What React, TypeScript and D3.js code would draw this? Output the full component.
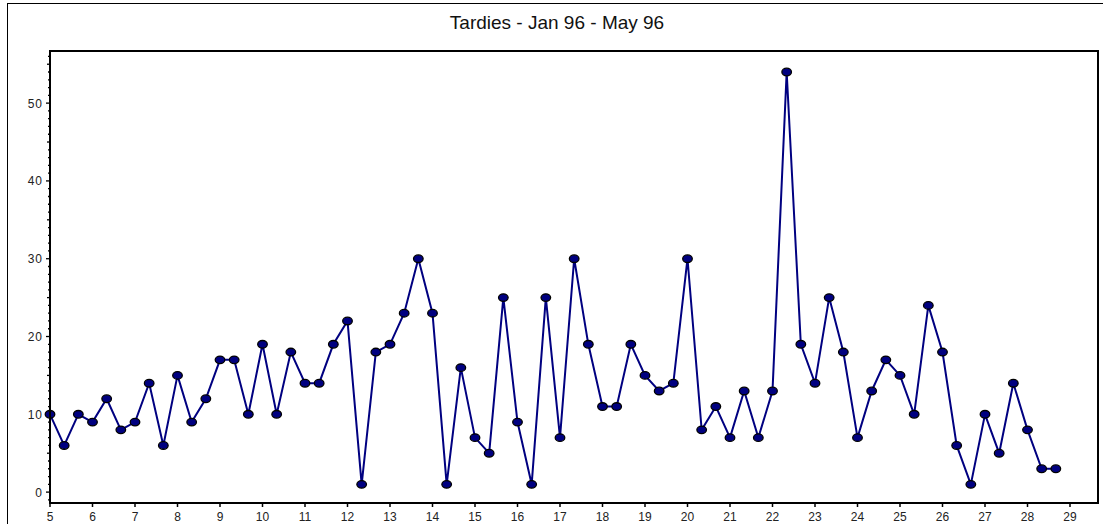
import React from "react";
import * as d3 from "d3";

// Daily tardy counts, three readings per week number
const tardies: number[] = [
  10, 6, 10, 9, 12, 8, 9, 14, 6, 15, 9, 12, 17, 17, 10, 19, 10, 18,
  14, 14, 19, 22, 1, 18, 19, 23, 30, 23, 1, 16, 7, 5, 25, 9, 1, 25,
  7, 30, 19, 11, 11, 19, 15, 13, 14, 30, 8, 11, 7, 13, 7, 13, 54, 19,
  14, 25, 18, 7, 13, 17, 15, 10, 24, 18, 6, 1, 10, 5, 14, 8, 3, 3,
];
const startWeek = 5;
const stepsPerWeek = 3;
const xTicks: number[] = d3.range(5, 30);
const yTicks: number[] = [0, 10, 20, 30, 40, 50];
const title = "Tardies - Jan 96 - May 96";

const W = 1103;
const H = 524;
const left = 50;
const right = 1098;
const top = 51;
const bottom = 503;

export default function App() {
  const x = d3.scaleLinear().domain([5, 5 + (right - left) / 42.5]).range([left, right]);
  const y = d3.scaleLinear().domain([-1.4, 56.7]).range([bottom, top]);

  const pts = tardies.map((v, i) => ({ wk: startWeek + i / stepsPerWeek, v }));
  const line = d3
    .line<{ wk: number; v: number }>()
    .x((d) => x(d.wk))
    .y((d) => y(d.v));

  const minor = d3.range(-1, 57);

  return (
    <svg
      width={W}
      height={H}
      style={{ position: "absolute", left: 0, top: 0, background: "#fff" }}
      fontFamily="'Liberation Sans', Arial, sans-serif"
    >
      <rect x={7.5} y={3.5} width={W + 10} height={H + 10} fill="#fff" stroke="#000" strokeWidth={1} />
      <text x={557} y={29} textAnchor="middle" fontSize={19} fill="#111">
        {title}
      </text>

      {/* y ticks: every unit, longer at fives and tens */}
      {minor.map((t) => {
        const len = t % 10 === 0 ? 4 : t % 5 === 0 ? 3 : 2;
        return (
          <line key={"ym" + t} x1={left - len} x2={left} y1={y(t)} y2={y(t)} stroke="#000" strokeWidth={1.3} />
        );
      })}
      {yTicks.map((t) => (
        <text key={"yl" + t} x={43} y={y(t) + 4.5} textAnchor="end" fontSize={12} fill="#222" letterSpacing={1}>
          {t}
        </text>
      ))}

      {/* x ticks */}
      {xTicks.map((t) => (
        <g key={"x" + t}>
          <line x1={x(t)} x2={x(t)} y1={bottom} y2={bottom + 4} stroke="#000" strokeWidth={1.5} />
          <text x={x(t)} y={521} textAnchor="middle" fontSize={12} fill="#222">
            {t}
          </text>
        </g>
      ))}

      <path d={line(pts) ?? ""} fill="none" stroke="#000080" strokeWidth={2} />
      {pts.map((d, i) => (
        <ellipse key={i} cx={x(d.wk)} cy={y(d.v)} rx={4.8} ry={3.8} fill="#000080" stroke="#000" strokeWidth={1.3} />
      ))}

      <rect x={left} y={top} width={right - left} height={bottom - top} fill="none" stroke="#000" strokeWidth={2} />
    </svg>
  );
}
